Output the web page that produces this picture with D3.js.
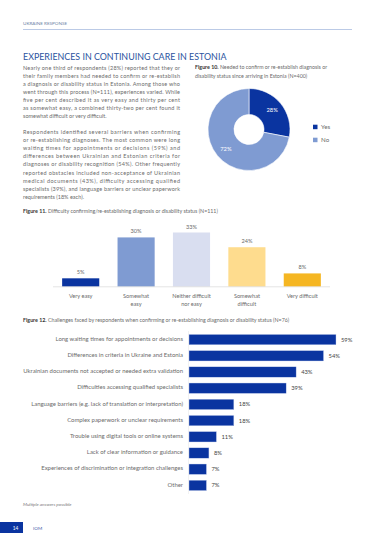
<!DOCTYPE html>
<html>
<head>
<meta charset="utf-8">
<script src="https://cdn.jsdelivr.net/npm/d3@7"></script>
<style>
  html, body { margin: 0; padding: 0; background: #fff; }
  svg { display: block; font-family: Lato, 'Open Sans', sans-serif; }
</style>
</head>
<body>
<div id="page"></div>
<script>
// page text
const para1 = [
  'Nearly one third of respondents (28%) reported that they or',
  'their family members had needed to confirm or re-establish',
  'a diagnosis or disability status in Estonia. Among those who',
  'went through this process (N=111), experiences varied. While',
  'five per cent described it as very easy and thirty per cent',
  'as somewhat easy, a combined thirty-two per cent found it',
  'somewhat difficult or very difficult.'
]
const para2 = [
  'Respondents identified several barriers when confirming',
  'or re-establishing diagnoses. The most common were long',
  'waiting times for appointments or decisions (59%) and',
  'differences between Ukrainian and Estonian criteria for',
  'diagnoses or disability recognition (54%). Other frequently',
  'reported obstacles included non-acceptance of Ukrainian',
  'medical documents (43%), difficulty accessing qualified',
  'specialists (39%), and language barriers or unclear paperwork',
  'requirements  (18%  each).'
]

// figure 10
const donutLabels = ['Yes', 'No']
const donutValues = [28, 72]
const donutColors = ['#0a34a0', '#7f9bd2']

// figure 11
const easeLabels = [['Very easy'], ['Somewhat', 'easy'], ['Neither difficult', 'nor easy'], ['Somewhat', 'difficult'], ['Very difficult']]
const easeValues = [5, 30, 33, 24, 8]
const easeColors = ['#0a34a0', '#7f9bd2', '#d9def0', '#fedc8e', '#f5b622']

// figure 12
const challengeLabels = [
  'Long waiting times for appointments or decisions',
  'Differences in criteria in Ukraine and Estonia',
  'Ukrainian documents not accepted or needed extra validation',
  'Difficulties accessing qualified specialists',
  'Language barriers (e.g. lack of translation or interpretation)',
  'Complex paperwork or unclear requirements',
  'Trouble using digital tools or online systems',
  'Lack of clear information or guidance',
  'Experiences of discrimination or integration challenges',
  'Other'
]
const challengeValues = [59, 54, 43, 39, 18, 18, 11, 8, 7, 7]

const W = 375, H = 537
const textColor = '#6b6b6b'
const blue = '#0a34a0'

const svg = d3.select('#page').append('svg')
  .attr('width', W)
  .attr('height', H)

// header
svg.append('text').attr('x', 23).attr('y', 25)
  .attr('font-size', 4.6).attr('fill', '#6d7fa6').text('UKRAINE RESPONSE')
svg.append('line').attr('x1', 23).attr('x2', 352).attr('y1', 29.5).attr('y2', 29.5)
  .attr('stroke', '#a9bde0').attr('stroke-width', 0.8)
svg.append('text').attr('x', 23).attr('y', 60)
  .attr('font-size', 8.9).attr('fill', '#2b53a0').text('EXPERIENCES IN CONTINUING CARE IN ESTONIA')

// justified paragraph lines
const paragraph = (lines, y0) => {
  svg.append('g').selectAll('text').data(lines).join('text')
    .attr('x', 23)
    .attr('y', (d, i) => y0 + i * 8.1)
    .attr('font-size', 5.5)
    .attr('fill', textColor)
    .each(function (d, i) {
      if (i < lines.length - 1) d3.select(this).attr('textLength', 157).attr('lengthAdjust', 'spacing')
    })
    .text(d => d)
}
paragraph(para1, 69.5)
paragraph(para2, 134)

const caption = (x, y, bold, rest) => {
  const t = svg.append('text').attr('x', x).attr('y', y).attr('font-size', 5.3).attr('fill', textColor)
  t.append('tspan').attr('font-weight', 'bold').attr('fill', '#333').text(bold)
  t.append('tspan').text(' ' + rest)
  return t
}

// figure 10 donut
caption(195, 69, 'Figure 10.', 'Needed to confirm or re-establish diagnosis or')
svg.append('text').attr('x', 195).attr('y', 77.5).attr('font-size', 5.3).attr('fill', textColor)
  .text('disability status since arriving in Estonia (N=400)')

const pie = d3.pie().sort(null)(donutValues)
const arc = d3.arc().innerRadius(15).outerRadius(41)
const labelArc = d3.arc().innerRadius(30).outerRadius(30)
const donut = svg.append('g').attr('transform', 'translate(249,129.5)')
donut.selectAll('path').data(pie).join('path')
  .attr('d', arc)
  .attr('fill', (d, i) => donutColors[i])
  .attr('stroke', '#fff').attr('stroke-width', 0.6)
donut.selectAll('text').data(pie).join('text')
  .attr('transform', d => `translate(${labelArc.centroid(d)})`)
  .attr('text-anchor', 'middle').attr('dy', '0.35em')
  .attr('font-size', 5.8).attr('fill', '#fff')
  .text(d => d.data + '%')

const legend = svg.append('g').selectAll('g').data(donutLabels).join('g')
  .attr('transform', (d, i) => `translate(313,${127 + i * 13})`)
legend.append('rect').attr('x', 0).attr('y', -2.3).attr('width', 4.5).attr('height', 4.5)
  .attr('fill', (d, i) => donutColors[i])
legend.append('text').attr('x', 8).attr('dy', '0.35em')
  .attr('font-size', 6.2).attr('fill', textColor).text(d => d)

// figure 11 columns
caption(23, 213, 'Figure 11.', 'Difficulty confirming/re-establishing diagnosis or disability status (N=111)')

const x11 = d3.scaleBand().domain(d3.range(easeValues.length)).range([53, 330]).paddingInner(0.33).paddingOuter(0.165)
const y11 = d3.scaleLinear().domain([0, 33]).range([286.5, 232.5])
const g11 = svg.append('g')
g11.selectAll('rect').data(easeValues).join('rect')
  .attr('x', (d, i) => x11(i))
  .attr('y', d => y11(d))
  .attr('width', x11.bandwidth())
  .attr('height', d => y11(0) - y11(d))
  .attr('fill', (d, i) => easeColors[i])
g11.selectAll('text.v').data(easeValues).join('text').attr('class', 'v')
  .attr('x', (d, i) => x11(i) + x11.bandwidth() / 2)
  .attr('y', d => y11(d) - 4)
  .attr('text-anchor', 'middle').attr('font-size', 5.6).attr('fill', textColor)
  .text(d => d + '%')
g11.append('line').attr('x1', 53).attr('x2', 330).attr('y1', y11(0) + 0.3).attr('y2', y11(0) + 0.3)
  .attr('stroke', '#d0d0d0').attr('stroke-width', 0.6)
g11.selectAll('text.c').data(easeLabels).join('text').attr('class', 'c')
  .attr('x', (d, i) => x11(i) + x11.bandwidth() / 2)
  .attr('y', y11(0) + 11)
  .attr('text-anchor', 'middle').attr('font-size', 5.6).attr('fill', textColor)
  .selectAll('tspan').data(d => d).join('tspan')
  .attr('x', function () { return d3.select(this.parentNode).attr('x') })
  .attr('dy', (d, i) => i ? 8.3 : 0)
  .text(d => d)

// figure 12 horizontal bars
caption(23, 322, 'Figure 12.', 'Challenges faced by respondents when confirming or re-establishing diagnosis or disability status (N=76)')

const x12 = d3.scaleLinear().domain([0, 59]).range([189, 336])
const y12 = d3.scaleBand().domain(challengeLabels).range([331.5, 493.5]).paddingInner(0.36).paddingOuter(0.18)
const g12 = svg.append('g')
g12.append('line').attr('x1', 188.5).attr('x2', 188.5).attr('y1', 331).attr('y2', 494)
  .attr('stroke', '#e4e4e4').attr('stroke-width', 0.5)
g12.selectAll('rect').data(challengeValues).join('rect')
  .attr('x', x12(0))
  .attr('y', (d, i) => y12(challengeLabels[i]))
  .attr('width', d => x12(d) - x12(0))
  .attr('height', y12.bandwidth())
  .attr('fill', blue)
  .attr('stroke', '#c9d3ee').attr('stroke-width', 0.4)
g12.selectAll('text.v').data(challengeValues).join('text').attr('class', 'v')
  .attr('x', d => x12(d) + 5)
  .attr('y', (d, i) => y12(challengeLabels[i]) + y12.bandwidth() / 2)
  .attr('dy', '0.35em').attr('font-size', 5.8).attr('fill', '#444')
  .text(d => d + '%')
g12.selectAll('text.c').data(challengeLabels).join('text').attr('class', 'c')
  .attr('x', 183)
  .attr('y', d => y12(d) + y12.bandwidth() / 2)
  .attr('dy', '0.2em').attr('text-anchor', 'end').attr('font-size', 5.95).attr('fill', textColor)
  .text(d => d)

// notes and footer
svg.append('text').attr('x', 23).attr('y', 506).attr('font-size', 4.6)
  .attr('font-style', 'italic').attr('fill', '#777').text('Multiple answers possible')
svg.append('rect').attr('x', 0).attr('y', 522).attr('width', 23).attr('height', 11).attr('fill', blue)
svg.append('text').attr('x', 15.5).attr('y', 529.5).attr('text-anchor', 'middle')
  .attr('font-size', 4.8).attr('fill', '#fff').text('14')
svg.append('text').attr('x', 33).attr('y', 529.5)
  .attr('font-size', 4.6).attr('fill', '#3a5aa8').text('IOM')
</script>
</body>
</html>
